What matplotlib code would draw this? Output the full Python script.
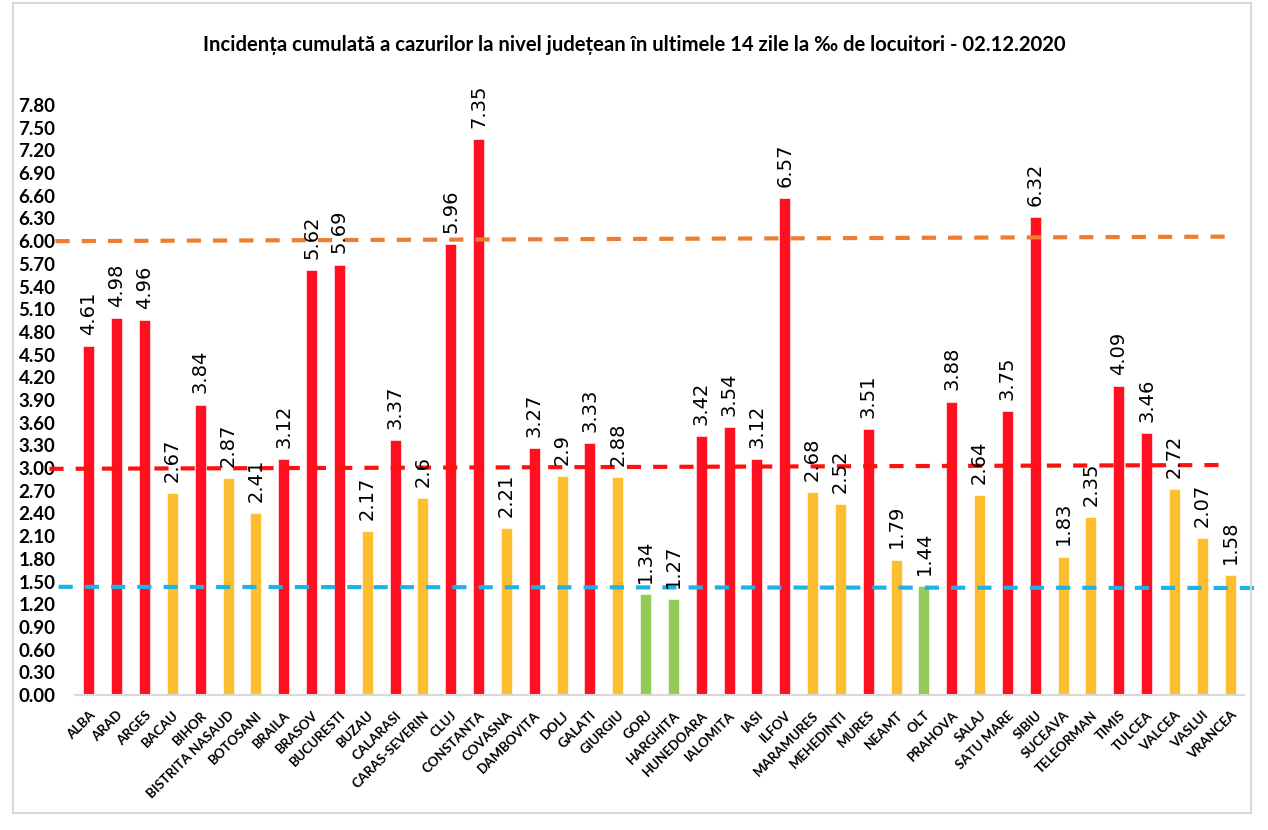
import matplotlib
matplotlib.use("Agg")
import matplotlib.pyplot as plt
from matplotlib.patches import Rectangle

plt.rcParams['font.family'] = ['Lato', 'DejaVu Sans']

# Data
counties = ["ALBA", "ARAD", "ARGES", "BACAU", "BIHOR", "BISTRITA NASAUD", "BOTOSANI",
            "BRAILA", "BRASOV", "BUCURESTI", "BUZAU", "CALARASI", "CARAS-SEVERIN", "CLUJ",
            "CONSTANTA", "COVASNA", "DAMBOVITA", "DOLJ", "GALATI", "GIURGIU", "GORJ",
            "HARGHITA", "HUNEDOARA", "IALOMITA", "IASI", "ILFOV", "MARAMURES", "MEHEDINTI",
            "MURES", "NEAMT", "OLT", "PRAHOVA", "SALAJ", "SATU MARE", "SIBIU", "SUCEAVA",
            "TELEORMAN", "TIMIS", "TULCEA", "VALCEA", "VASLUI", "VRANCEA"]
incidence = [4.61, 4.98, 4.96, 2.67, 3.84, 2.87, 2.41,
             3.12, 5.62, 5.69, 2.17, 3.37, 2.6, 5.96,
             7.35, 2.21, 3.27, 2.9, 3.33, 2.88, 1.34,
             1.27, 3.42, 3.54, 3.12, 6.57, 2.68, 2.52,
             3.51, 1.79, 1.44, 3.88, 2.64, 3.75, 6.32, 1.83,
             2.35, 4.09, 3.46, 2.72, 2.07, 1.58]
# (left end, right end) levels of the hand-drawn threshold lines
line_orange = [6.00, 6.06]
line_red = [2.99, 3.04]
line_blue = [1.43, 1.415]
yticks = [i * 0.3 for i in range(27)]

title = "Incidența cumulată a cazurilor la nivel județean în ultimele 14 zile la ‰ de locuitori - 02.12.2020"

RED = "#FF0F20"
AMBER = "#FDBE2F"
GREEN = "#94CB56"


def bar_color(v):
    if v > 3.0:
        return RED
    if v > 1.5:
        return AMBER
    return GREEN


fig = plt.figure(figsize=(12.68, 8.30), dpi=100)
ax = fig.add_axes([75 / 1268, 1 - 695 / 830, (1244 - 75) / 1268, (695 - 105) / 830])

x = list(range(len(counties)))
colors = [bar_color(v) for v in incidence]
ax.bar(x, incidence, width=0.4, color=colors, edgecolor="white", linewidth=0.4, zorder=2)

for xi, v in zip(x, incidence):
    ax.annotate("%g" % v, (xi, v), xytext=(0, 8), textcoords="offset points",
                rotation=90, ha="center", va="bottom", fontsize=14,
                family="DejaVu Sans", color="black", zorder=5)

# threshold lines, drawn past the plot area like in the source
ax.plot([-1.2, 41.1], line_orange, color="#ED7D31", lw=3, dashes=(3.4, 2.9),
        clip_on=False, zorder=3)
ax.plot([-1.42, 40.7], line_red, color="#FF1010", lw=3, dashes=(3.4, 2.9),
        clip_on=False, zorder=3)
ax.plot([-1.09, 41.86], line_blue, color="#1FB2E8", lw=3, dashes=(3.4, 2.9),
        clip_on=False, zorder=3)

ax.set_xlim(-0.5, len(counties) - 0.5)
ax.set_ylim(0, 7.8)
ax.set_yticks(yticks)
ax.set_yticklabels(["%.2f" % t for t in yticks], fontsize=13.5, fontweight="bold")
ax.set_xticks(x)
ax.set_xticklabels(counties, rotation=45, ha="right", rotation_mode="anchor",
                   fontsize=9.5, fontweight="bold")
ax.tick_params(axis="both", length=0)
ax.tick_params(axis="x", pad=10)
ax.tick_params(axis="y", pad=14)
for side in ["top", "right", "left"]:
    ax.spines[side].set_visible(False)
ax.spines["bottom"].set_color("#D9D9D9")
ax.spines["bottom"].set_linewidth(1.5)

fig.text(0.5, 1 - 45 / 830, title, ha="center", va="center", fontsize=14.6,
         fontweight="bold")

# light frame around the chart area
fig.patches.append(Rectangle((13 / 1268, 1 - 813 / 830), (1251 - 13) / 1268, (813 - 3) / 830,
                             transform=fig.transFigure, fill=False,
                             edgecolor="#D9D9D9", lw=1.5))

fig.savefig("out.png", dpi=100)
